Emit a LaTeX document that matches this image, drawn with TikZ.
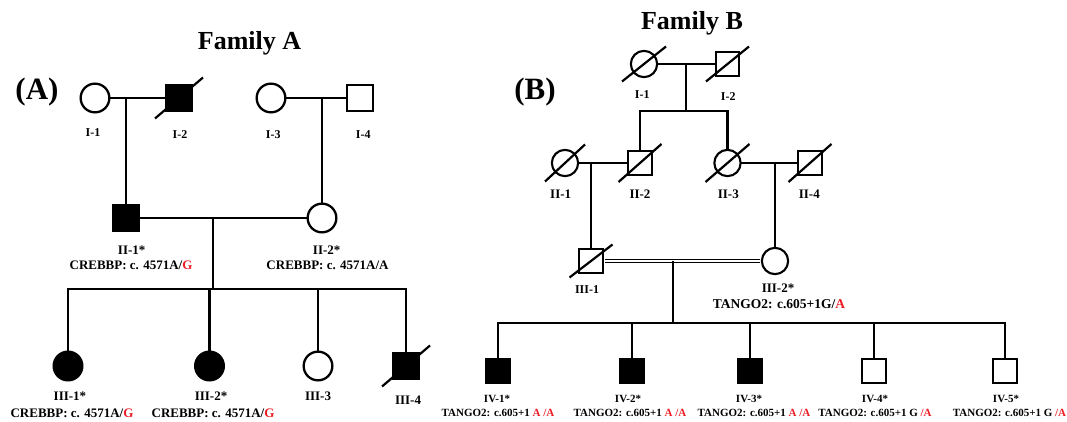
\documentclass[tikz,border=0pt]{standalone}
\usepackage{fontspec}
\setmainfont{Liberation Serif}
\usepackage{xcolor}
\definecolor{gred}{RGB}{235,28,36}
\newcommand\pslash[3]{\draw[slashln] ([shift={(-#2,#3)}]#1.center) -- ([shift={(#2,-#3)}]#1.center);}
\begin{document}
\begin{tikzpicture}[x=1pt,y=-1pt,
  lnA/.style={line width=2.3pt,line cap=rect},
  lnB/.style={line width=2.1pt,line cap=rect},
  slashln/.style={line width=2.2pt},
  femA/.style={circle,draw,line width=2.3pt,minimum size=28.7pt,inner sep=0pt},
  malA/.style={rectangle,draw,line width=2.3pt,minimum size=25.4pt,inner sep=0pt},
  femB/.style={circle,draw,line width=2.1pt,minimum size=26.3pt,inner sep=0pt},
  malB/.style={rectangle,draw,line width=2.1pt,minimum size=23.8pt,inner sep=0pt},
  aff/.style={fill=black},
  lab/.style={font=\bfseries\fontsize{#1}{#1}\selectfont,inner sep=0pt,anchor=base}]
\useasboundingbox (0,0) rectangle (1067,422);

% ================= Family A =================
\node[lab=26] (titA) at (249.5,49.3) {Family A};
\node[lab=31] (pA) at (37,100) {(A)};

\node[femA] (A11) at (95,98) {};
\node[malA,aff] (A12) at (179,98) {};
\node[femA] (A13) at (271,98) {};
\node[malA] (A14) at (360,98) {};
\node[malA,aff] (A21) at (126,218) {};
\node[femA] (A22) at (322,218) {};
\node[femA,aff] (A31) at (68,366) {};
\node[femA,aff] (A32) at (209.5,366) {};
\node[femA] (A33) at (318,366) {};
\node[malA,aff] (A34) at (406,366) {};

\draw[lnA] (A11) -- (A12);
\coordinate (mA1) at (126,98);
\draw[lnA] (mA1) -- (A21);
\draw[lnA] (A13) -- (A14);
\coordinate (mA2) at (322,98);
\draw[lnA] (mA2) -- (A22);
\draw[lnA] (A21) -- (A22);
\coordinate (mA3) at (213.3,218);
\coordinate (sA) at (213.3,289);
\draw[lnA] (mA3) -- (sA);
\coordinate (sA1) at (68,289);
\coordinate (sA2) at (209.5,289);
\coordinate (sA3) at (318,289);
\coordinate (sA4) at (406,289);
\draw[lnA] (sA1) -- (sA4);
\draw[lnA] (sA1) -- (A31);
\draw[lnA] (sA2) -- (A32);
\draw[lnA] (sA3) -- (A33);
\draw[lnA] (sA4) -- (A34);

\pslash{A12}{24}{20.5}
\pslash{A34}{24}{20.5}

\node[lab=12] (lA11) at (93,137) {I-1};
\node[lab=12] (lA12) at (180,139) {I-2};
\node[lab=12] (lA13) at (273.3,139) {I-3};
\node[lab=12] (lA14) at (363.3,139) {I-4};
\node[lab=13] (lA21) at (131.7,254) {II-1*};
\node[lab=13] (gA21) at (131,269.3) {CREBBP: c. 4571A/\textcolor{gred}{G}};
\node[lab=13] (lA22) at (326.7,254) {II-2*};
\node[lab=13] (gA22) at (327.5,269.3) {CREBBP: c. 4571A/A};
\node[lab=13] (lA31) at (70,400.4) {III-1*};
\node[lab=13] (gA31) at (72,417) {CREBBP: c. 4571A/\textcolor{gred}{G}};
\node[lab=13] (lA32) at (211,400.4) {III-2*};
\node[lab=13] (gA32) at (213,417) {CREBBP: c. 4571A/\textcolor{gred}{G}};
\node[lab=13] (lA33) at (318,400) {III-3};
\node[lab=13] (lA34) at (408,404.5) {III-4};

% ================= Family B =================
\node[lab=26] (titB) at (692,29.3) {Family B};
\node[lab=31] (pB) at (535,99.5) {(B)};

\node[femB] (B11) at (644,64) {};
\node[malB] (B12) at (727.5,64) {};
\node[femB] (B21) at (565,163) {};
\node[malB] (B22) at (640,163) {};
\node[femB] (B23) at (727.5,163) {};
\node[malB] (B24) at (810,163) {};
\node[malB] (B31) at (591,261) {};
\node[femB] (B32) at (775,261) {};
\node[malB,aff] (B41) at (498,371) {};
\node[malB,aff] (B42) at (632,371) {};
\node[malB,aff] (B43) at (750,371) {};
\node[malB] (B44) at (874,371) {};
\node[malB] (B45) at (1005,371) {};

\draw[lnB] (B11) -- (B12);
\coordinate (mB1) at (686,64);
\coordinate (sB1) at (686,111);
\coordinate (sB1l) at (640,111);
\coordinate (sB1r) at (727.5,111);
\draw[lnB] (mB1) -- (sB1);
\draw[lnB] (sB1l) -- (sB1r);
\draw[lnB] (sB1l) -- (B22);
\draw[lnB] (sB1r) -- (B23);

\draw[lnB] (B21) -- (B22);
\coordinate (mB2) at (591,163);
\draw[lnB] (mB2) -- (B31);
\draw[lnB] (B23) -- (B24);
\coordinate (mB3) at (775,163);
\draw[lnB] (mB3) -- (B32);

\draw[line width=1.5pt,double,double distance=1.5pt,shorten <=1pt,shorten >=1pt] (B31) -- (B32);
\coordinate (mB4) at (673,262);
\coordinate (sB4) at (673,323);
\draw[lnB] (mB4) -- (sB4);
\coordinate (sB41) at (498,323);
\coordinate (sB42) at (632,323);
\coordinate (sB43) at (750,323);
\coordinate (sB44) at (874,323);
\coordinate (sB45) at (1005,323);
\draw[lnB] (sB41) -- (sB45);
\draw[lnB] (sB41) -- (B41);
\draw[lnB] (sB42) -- (B42);
\draw[lnB] (sB43) -- (B43);
\draw[lnB] (sB44) -- (B44);
\draw[lnB] (sB45) -- (B45);

\pslash{B11}{22}{17.5}
\pslash{B12}{21.5}{17.5}
\pslash{B21}{20}{18.5}
\pslash{B22}{21.5}{19}
\pslash{B23}{22}{19}
\pslash{B24}{21.5}{19}
\pslash{B31}{21.5}{16.5}

\node[lab=12] (lB11) at (642.3,98.3) {I-1};
\node[lab=12] (lB12) at (728.3,100.7) {I-2};
\node[lab=13] (lB21) at (560.7,198.7) {II-1};
\node[lab=13] (lB22) at (640,198.7) {II-2};
\node[lab=13] (lB23) at (728.3,198.7) {II-3};
\node[lab=13] (lB24) at (809.3,198.7) {II-4};
\node[lab=12] (lB31) at (587,293) {III-1};
\node[lab=13] (lB32) at (778,292.4) {III-2*};
\node[lab=13.5] (gB32) at (779,308.5) {TANGO2: c.605+1G/\textcolor{gred}{A}};

\node[lab=11] (lB41) at (497,402.7) {IV-1*};
\node[lab=11] (lB42) at (628,402.7) {IV-2*};
\node[lab=11] (lB43) at (749,402.7) {IV-3*};
\node[lab=11] (lB44) at (875,402.7) {IV-4*};
\node[lab=11] (lB45) at (1006,402.7) {IV-5*};
\node[lab=11] (gB41) at (498,416) {TANGO2: c.605+1 \textcolor{gred}{A /A}};
\node[lab=11] (gB42) at (630,416) {TANGO2: c.605+1 \textcolor{gred}{A /A}};
\node[lab=11] (gB43) at (754,416) {TANGO2: c.605+1 \textcolor{gred}{A /A}};
\node[lab=11] (gB44) at (875,416) {TANGO2: c.605+1 G \textcolor{gred}{/A}};
\node[lab=11] (gB45) at (1009.5,416) {TANGO2: c.605+1 G \textcolor{gred}{/A}};
\end{tikzpicture}
\end{document}
